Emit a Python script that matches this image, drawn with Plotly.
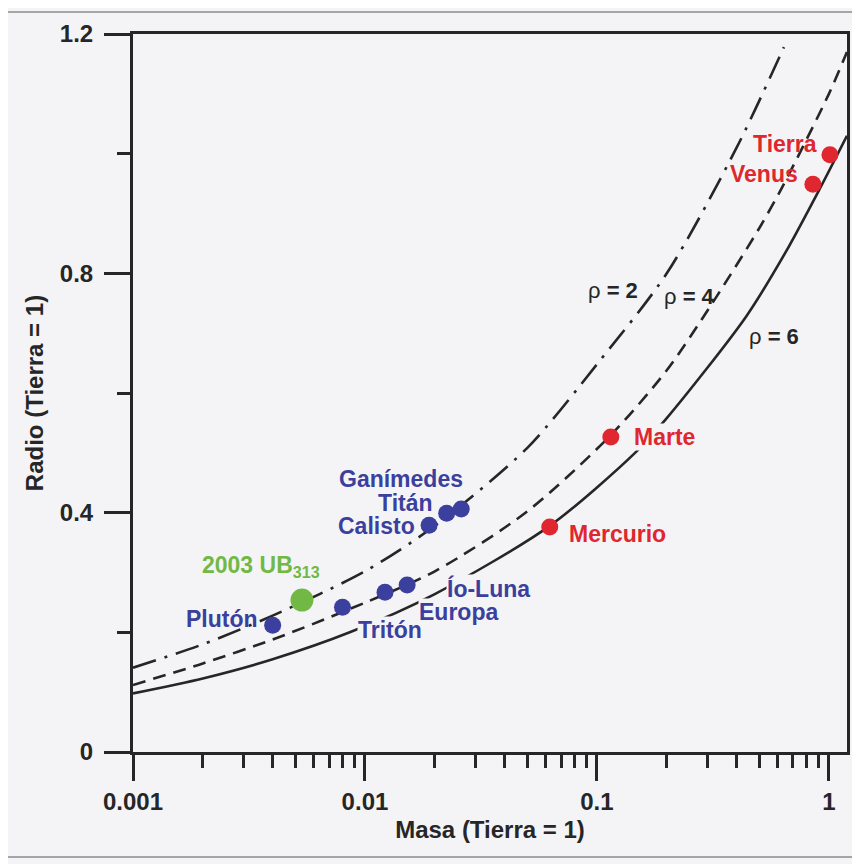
import math
import plotly.graph_objects as go

# ---------------- data ----------------
# Density curves: mass (Earth = 1) vs radius (Earth = 1)
rho2_mass = [0.001, 0.002, 0.004, 0.01, 0.02, 0.05, 0.1, 0.2, 0.4, 0.64]
rho2_radius = [0.141, 0.180, 0.228, 0.302, 0.378, 0.508, 0.648, 0.800, 1.01, 1.178]

rho4_mass = [0.001, 0.002, 0.004, 0.008, 0.02, 0.05, 0.115, 0.2, 0.307, 0.5, 0.627, 1.0, 1.196]
rho4_radius = [0.112, 0.148, 0.188, 0.234, 0.302, 0.402, 0.530, 0.638, 0.744, 0.875, 0.943, 1.10, 1.17]

rho6_mass = [0.001, 0.002, 0.004, 0.0086, 0.02, 0.0626, 0.146, 0.2, 0.44, 0.65, 0.915, 1.196]
rho6_radius = [0.098, 0.123, 0.155, 0.200, 0.264, 0.378, 0.50, 0.558, 0.728, 0.835, 0.942, 1.03]

# Bodies
blue_names = ["Plutón", "Tritón", "Europa", "Ío-Luna", "Calisto", "Titán", "Ganímedes"]
blue_mass = [0.0040, 0.0080, 0.0122, 0.0152, 0.0189, 0.0225, 0.0260]
blue_radius = [0.212, 0.242, 0.267, 0.279, 0.379, 0.399, 0.406]

green_names = ["2003 UB<sub>313</sub>"]
green_mass = [0.00535]
green_radius = [0.254]

red_names = ["Mercurio", "Marte", "Venus", "Tierra"]
red_mass = [0.0626, 0.1148, 0.853, 1.01]
red_radius = [0.376, 0.5265, 0.949, 0.998]

rho_labels = ["ρ<b> = 2</b>", "ρ<b> = 4</b>", "ρ<b> = 6</b>"]

x_tick_vals = [0.001, 0.01, 0.1, 1]
x_tick_text = ["0.001", "0.01", "0.1", "1"]

# ---------------- styling ----------------
BG = "#f4f4f6"
INK = "#262626"
BLUE = "#3b3f9d"
RED = "#e0262e"
GREEN = "#72b844"
FONT = "Liberation Sans"
FS = 24
LFS = 23

fig = go.Figure()

curve_styles = [
    (rho2_mass, rho2_radius, "24px,9px,3px,9px"),
    (rho4_mass, rho4_radius, "13px,8px"),
    (rho6_mass, rho6_radius, "solid"),
]
for m, r, dash in curve_styles:
    fig.add_trace(go.Scatter(
        x=m, y=r, mode="lines",
        line=dict(color=INK, width=2.6, dash=dash, shape="spline", smoothing=0.8),
        hoverinfo="skip", showlegend=False,
    ))

fig.add_trace(go.Scatter(x=blue_mass, y=blue_radius, mode="markers",
                         marker=dict(color=BLUE, size=17), text=blue_names,
                         showlegend=False))
fig.add_trace(go.Scatter(x=green_mass, y=green_radius, mode="markers",
                         marker=dict(color=GREEN, size=23), text=green_names,
                         showlegend=False))
fig.add_trace(go.Scatter(x=red_mass, y=red_radius, mode="markers",
                         marker=dict(color=RED, size=17), text=red_names,
                         showlegend=False))

# label offsets in pixels: (xanchor, xshift, yshift, hide-lines-behind)
label_offsets = {
    "Plutón": ("right", -14, 6, False),
    "Tritón": ("left", 15, -23, True),
    "Europa": ("left", 33, -20, True),
    "Ío-Luna": ("left", 39, -3, True),
    "Calisto": ("right", -13, -1, False),
    "Titán": ("right", -13, 10, False),
    "Ganímedes": ("right", 3, 30, False),
    "2003 UB<sub>313</sub>": ("right", 19, 34, False),
    "Mercurio": ("left", 18, -7, False),
    "Marte": ("left", 22, 0, True),
    "Venus": ("right", -14, 10, False),
    "Tierra": ("right", -12, 11, False),
}

annotations = []
for names, masses, radii, color in [
    (blue_names, blue_mass, blue_radius, BLUE),
    (green_names, green_mass, green_radius, GREEN),
    (red_names, red_mass, red_radius, RED),
]:
    for n, m, r in zip(names, masses, radii):
        xa, xs, ys, hide = label_offsets[n]
        ann = dict(
            x=math.log10(m), y=r, xref="x", yref="y", text=f"<b>{n}</b>",
            showarrow=False, xanchor=xa, yanchor="middle", xshift=xs, yshift=ys,
            font=dict(family=FONT, size=LFS, color=color), borderpad=0,
        )
        if hide:
            ann["bgcolor"] = BG
        annotations.append(ann)

# rho labels placed next to their curves
rho_pos = [(-0.931, 0.772), (-0.603, 0.762), (-0.237, 0.695)]
for t, (lx, ly) in zip(rho_labels, rho_pos):
    annotations.append(dict(
        x=lx, y=ly, xref="x", yref="y", text=t, showarrow=False,
        xanchor="center", yanchor="middle",
        font=dict(family=FONT, size=LFS - 1, color=INK),
    ))

minor_x = [k * 10 ** e for e in (-3, -2, -1) for k in range(2, 10)]

# the page adds an 8px body margin, so margins are compensated
fig.update_layout(
    width=860, height=864,
    margin=dict(l=125, r=21, t=26, b=120, autoexpand=False),
    paper_bgcolor=BG, plot_bgcolor=BG,
    font=dict(family=FONT, size=FS, color=INK),
    annotations=annotations,
    showlegend=False,
    shapes=[dict(type="rect", xref="paper", yref="paper",
                 x0=(7 - 133) / 714, x1=(857 - 133) / 714,
                 y0=(752 - 857) / 718, y1=(752 - 12) / 718,
                 line=dict(color="#8a8a8a", width=1.5), layer="below")],
)

fig.update_xaxes(
    type="log", range=[-3, 0.078], automargin=False,
    showline=True, linewidth=3, linecolor=INK, mirror=True,
    showgrid=False, zeroline=False,
    ticks="outside", ticklen=26, tickwidth=2.6, tickcolor=INK,
    tickvals=x_tick_vals, ticktext=[f"<b>{t}</b>" for t in x_tick_text],
    tickfont=dict(family=FONT, size=FS, color=INK),
    minor=dict(tickvals=minor_x, ticks="outside", ticklen=13, tickwidth=2.6,
               tickcolor=INK, showgrid=False),
    title=dict(text="<b>Masa (Tierra = 1)</b>", font=dict(family=FONT, size=FS, color=INK),
               standoff=8),
)
fig.update_yaxes(
    range=[0, 1.2], tick0=0, dtick=0.4, automargin=False,
    showline=True, linewidth=3, linecolor=INK, mirror=True,
    showgrid=False, zeroline=False,
    ticks="outside", ticklen=26, tickwidth=2.6, tickcolor=INK,
    tickfont=dict(family=FONT, size=FS, color=INK, weight="bold"),
    ticklabelstandoff=6,
    minor=dict(dtick=0.2, tick0=0, ticks="outside", ticklen=13, tickwidth=2.6,
               tickcolor=INK, showgrid=False),
    title=dict(text="<b>Radio (Tierra = 1)</b>", font=dict(family=FONT, size=FS, color=INK),
               standoff=10),
)

fig.write_html("out.html")
